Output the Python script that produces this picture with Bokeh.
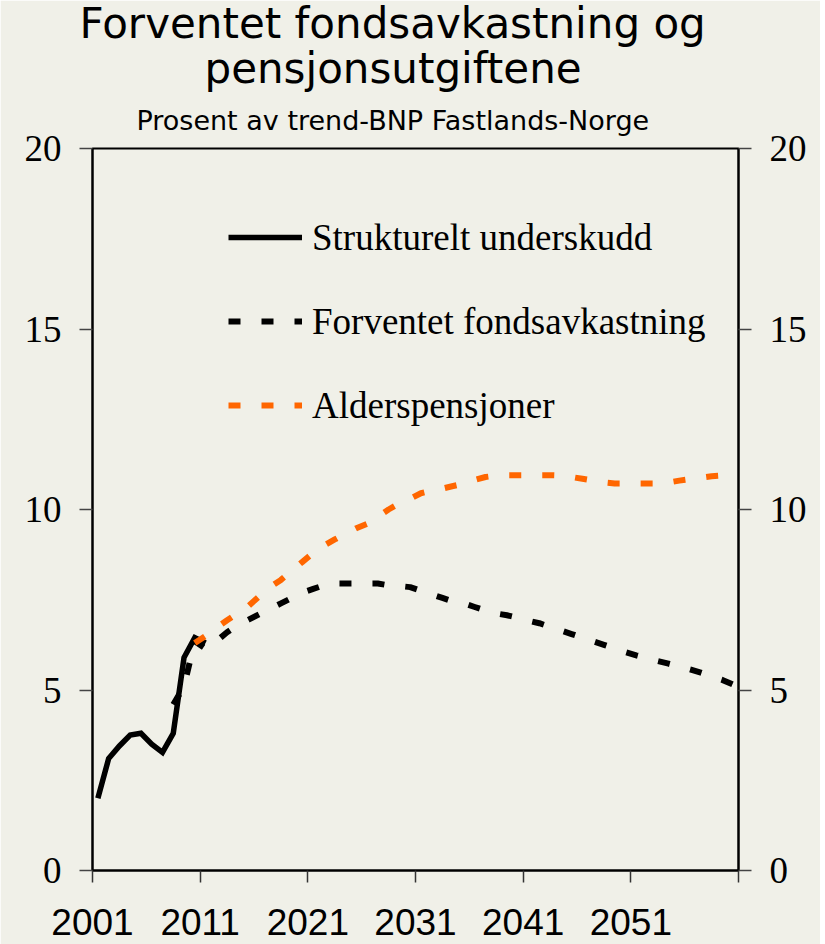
from bokeh.plotting import figure
from bokeh.models import (Range1d, LinearAxis, FixedTicker, Title, Legend, LegendItem)
from bokeh.embed import file_html
from bokeh.resources import INLINE

# ---------------- data ----------------
years_deficit = [2001, 2002, 2003, 2004, 2005, 2006, 2007, 2008, 2009, 2010, 2011]
deficit = [2.0, 3.1, 3.45, 3.75, 3.8, 3.5, 3.27, 3.8, 5.9, 6.45, 6.3]

years_fund = list(range(2008, 2061))
fund = [4.6, 5.1, 6.35, 6.15, 6.35, 6.6, 6.8, 6.95, 7.1, 7.25,
        7.4, 7.55, 7.7, 7.8, 7.9, 7.95, 7.95, 7.95, 7.95, 7.95,
        7.9, 7.88, 7.85, 7.75, 7.65, 7.55, 7.45, 7.4, 7.3, 7.2,
        7.12, 7.07, 7.0, 6.92, 6.85, 6.75, 6.65, 6.55, 6.45, 6.35,
        6.25, 6.15, 6.05, 5.96, 5.88, 5.8, 5.73, 5.65, 5.57, 5.48,
        5.38, 5.28, 5.15]

years_pension = list(range(2010, 2061))
pension = [6.3, 6.5, 6.72, 6.93, 7.13, 7.33, 7.6, 7.85, 8.05, 8.3,
           8.55, 8.8, 9.0, 9.17, 9.33, 9.48, 9.6, 9.8, 10.0, 10.17,
           10.3, 10.45, 10.52, 10.58, 10.65, 10.72, 10.82, 10.9, 10.94, 10.95,
           10.95, 10.95, 10.95, 10.95, 10.94, 10.9, 10.85, 10.8, 10.75, 10.72,
           10.72, 10.72, 10.72, 10.72, 10.75, 10.8, 10.84, 10.88, 10.92, 10.94,
           10.95]

x_ticks = [2001, 2011, 2021, 2031, 2041, 2051, 2061]
x_tick_labels = ["2001", "2011", "2021", "2031", "2041", "2051", ""]
y_ticks = [0, 5, 10, 15, 20]

title_line1 = "Forventet fondsavkastning og"
title_line2 = "pensjonsutgiftene"
subtitle = "Prosent av trend-BNP Fastlands-Norge"
legend_labels = ["Strukturelt underskudd", "Forventet fondsavkastning", "Alderspensjoner"]

# ---------------- figure ----------------
BG = "#F0F0E8"
p = figure(width=820, height=944, output_backend="svg", toolbar_location=None, title=None,
           x_range=Range1d(2001, 2061), y_range=Range1d(0, 20),
           min_border_left=92, min_border_right=82, min_border_top=148, min_border_bottom=74,
           background_fill_color=BG, border_fill_color=BG)
p.xgrid.visible = False
p.ygrid.visible = False
p.outline_line_color = "black"
p.outline_line_width = 2

# x axis
xa = p.xaxis[0]
xa.ticker = FixedTicker(ticks=x_ticks)
xa.major_label_overrides = {t: l for t, l in zip(x_ticks, x_tick_labels)}
xa.major_label_text_font = "Liberation Sans"
xa.major_label_text_font_size = "37px"
xa.major_label_text_color = "black"
xa.major_label_standoff = 26
xa.axis_line_color = "black"
xa.axis_line_width = 2
xa.major_tick_line_color = "#333333"
xa.major_tick_line_width = 1.5
xa.major_tick_out = 12
xa.major_tick_in = 0
xa.minor_tick_line_color = None

# y axes
ya = p.yaxis[0]
ra = LinearAxis()
p.add_layout(ra, "right")
for ax in (ya, ra):
    ax.ticker = FixedTicker(ticks=y_ticks)
    ax.major_label_text_font = "Liberation Serif"
    ax.major_label_text_font_size = "37px"
    ax.major_label_text_color = "black"
    ax.major_label_standoff = 18
    ax.axis_line_color = "black"
    ax.axis_line_width = 2
    ax.major_tick_line_color = "#444444"
    ax.major_tick_line_width = 1.5
    ax.major_tick_out = 13
    ax.major_tick_in = 0
    ax.minor_tick_line_color = None

# lines (points at the centre of each year)
r1 = p.line([y + 0.5 for y in years_deficit], deficit, line_color="black", line_width=5.5,
            line_join="miter")
r2 = p.line([y + 0.5 for y in years_fund], fund, line_color="black", line_width=6,
            line_dash="12 21")
r3 = p.line([y + 0.5 for y in years_pension], pension, line_color="#FF6600", line_width=6,
            line_dash="12 21")

legend = Legend(items=[LegendItem(label=legend_labels[0], renderers=[r1]),
                       LegendItem(label=legend_labels[1], renderers=[r2]),
                       LegendItem(label=legend_labels[2], renderers=[r3])],
                location=(136, 423), glyph_width=74, glyph_height=84, label_height=84,
                spacing=0, padding=0, margin=0, label_standoff=10,
                border_line_color=None, background_fill_alpha=0,
                label_text_font="Liberation Serif", label_text_font_size="37px",
                label_text_color="black", label_text_baseline="middle")
p.add_layout(legend)

# titles: nearest to the frame first (left-aligned with offsets so they centre near x=391)
for txt, size, standoff, offset in [(subtitle, "27px", 26, 44),
                                    (title_line2, "42px", -6, 112),
                                    (title_line1, "42px", -7, -13)]:
    p.add_layout(Title(text=txt, align="left", text_font="DejaVu Sans", text_font_size=size,
                       text_font_style="normal", text_color="black", standoff=standoff,
                       offset=offset), "above")

open("out.html", "w").write(file_html(p, INLINE))
